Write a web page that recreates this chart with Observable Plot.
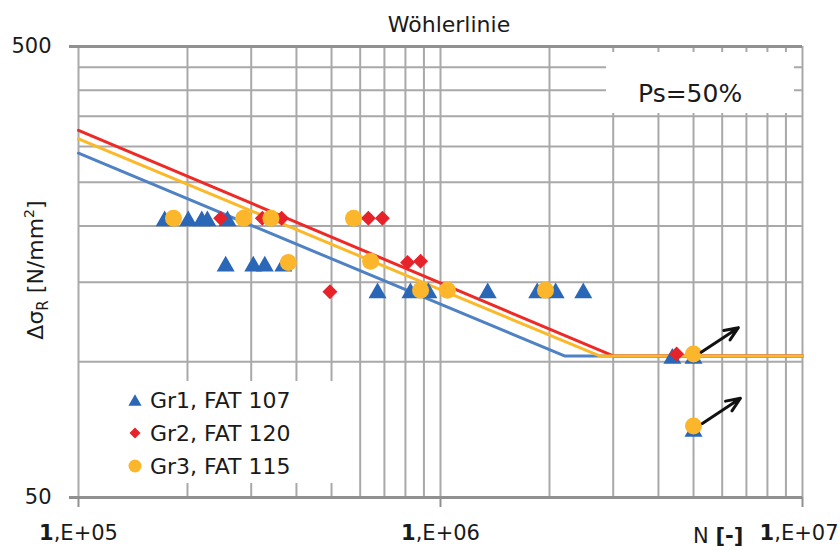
<!DOCTYPE html>
<html><head><meta charset="utf-8">
<script src="https://cdn.jsdelivr.net/npm/d3@7"></script>
<script src="https://cdn.jsdelivr.net/npm/@observablehq/plot@0.6"></script>
<style>
body{margin:0;background:#fff;}
#wrap{position:relative;width:840px;height:550px;}
</style></head><body><div id="wrap"></div>
<script>
// ---- axis ticks / grid ----
const xTicks = [1e5, 1e6, 1e7];
const xTickLabels = ["1,E+05", "1,E+06", "1,E+07"];
const yTicks = [50, 500];
const yTickLabels = ["50", "500"];
const xGrid = [1e5,2e5,3e5,4e5,5e5,6e5,7e5,8e5,9e5,1e6,2e6,3e6,4e6,5e6,6e6,7e6,8e6,9e6,1e7];
const yGrid = [50,100,150,200,250,300,350,400,450,500];

// ---- texts ----
const title = "Wöhlerlinie";
const xLabel = "N [-]";
const psLabel = "Ps=50%";
const seriesNames = ["Gr1, FAT 107", "Gr2, FAT 120", "Gr3, FAT 115"];

// ---- test points ----
const gr1N = [1.73e5, 2.01e5, 2.19e5, 2.27e5, 2.58e5, 2.55e5, 3.04e5, 3.27e5, 3.68e5, 6.70e5, 8.26e5, 9.26e5, 1.35e6, 1.85e6, 2.08e6, 2.48e6, 4.37e6, 5.0e6, 5.0e6];
const gr1S = [208, 208, 208, 208, 208, 165, 165, 165, 165, 144, 144, 144, 144, 144, 144, 144, 103, 103, 71];
const gr2N = [2.47e5, 3.22e5, 3.64e5, 6.32e5, 6.91e5, 8.11e5, 8.81e5, 4.95e5, 4.49e6];
const gr2S = [208, 208, 208, 208, 208, 166, 167, 143, 104];
const gr3N = [1.83e5, 2.86e5, 3.4e5, 5.75e5, 3.80e5, 6.41e5, 8.81e5, 1.045e6, 1.95e6, 5.0e6, 5.0e6];
const gr3S = [208, 208, 208, 208, 166, 167, 144, 144, 144, 104, 72];

// ---- S-N curves ----
const gr1LineN = [1e5, 2.2e6, 1e7];
const gr1LineS = [290, 103, 103];
const gr2LineN = [1e5, 3.0e6, 1e7];
const gr2LineS = [326, 103, 103];
const gr3LineN = [1e5, 2.75e6, 1e7];
const gr3LineS = [312, 103, 103];

// ---- run-out arrows ----
const arrowN1 = [5.25e6, 5.29e6];
const arrowS1 = [105, 73];
const arrowN2 = [6.65e6, 6.74e6];
const arrowS2 = [119, 83];

const colors = {blueM: "#2a67b6", blueL: "#4f81c5", redM: "#e6232a", redL: "#ee2a27", orM: "#fbb62b", orL: "#fbb829"};

const pts = (N, S) => N.map((n, i) => ({n, s: S[i]}));
const gr1 = pts(gr1N, gr1S), gr2 = pts(gr2N, gr2S), gr3 = pts(gr3N, gr3S);
const l1 = pts(gr1LineN, gr1LineS), l2 = pts(gr2LineN, gr2LineS), l3 = pts(gr3LineN, gr3LineS);
const arrows = arrowN1.map((n, i) => ({x1: n, y1: arrowS1[i], x2: arrowN2[i], y2: arrowS2[i]}));

// Excel-like symbols centered on their bounding box
const triSym = {draw(ctx, size) { const r = Math.sqrt(size / Math.PI); const w = 1.2 * r, h = 1.05 * r; ctx.moveTo(0, -h); ctx.lineTo(w, h); ctx.lineTo(-w, h); ctx.closePath(); }};
const diaSym = {draw(ctx, size) { const r = Math.sqrt(size / Math.PI) * 1.1; ctx.moveTo(0, -r); ctx.lineTo(r, 0); ctx.lineTo(0, r); ctx.lineTo(-r, 0); ctx.closePath(); }};

const FONT = "DejaVu Sans";
const plot = Plot.plot({
  width: 840, height: 550,
  marginLeft: 78, marginRight: 38, marginTop: 46, marginBottom: 53,
  x: {type: "log", domain: [1e5, 1e7]},
  y: {type: "log", domain: [50, 500]},
  style: {fontFamily: FONT, fontSize: "21px", color: "#1a1a1a", background: "white", overflow: "visible"},
  marks: [
    Plot.ruleX(xGrid, {stroke: "#a9a9a9", strokeWidth: 2}),
    Plot.ruleY(yGrid, {stroke: "#a9a9a9", strokeWidth: 2}),
    Plot.ruleY(yTicks, {stroke: "#909090", strokeWidth: 3}),
    Plot.axisX(xTicks, {tickFormat: d => xTickLabels[xTicks.indexOf(d)], tickSize: 10, tickPadding: 18, stroke: "#909090", strokeWidth: 2, label: null, fontSize: 21}),
    Plot.axisY(yTicks, {tickFormat: d => yTickLabels[yTicks.indexOf(d)], tickSize: 9, tickPadding: 18, stroke: "#909090", strokeWidth: 3, label: null, fontSize: 21}),
    Plot.line(l1, {x: "n", y: "s", stroke: colors.blueL, strokeWidth: 3}),
    Plot.line(l2, {x: "n", y: "s", stroke: colors.redL, strokeWidth: 3}),
    Plot.line(l3, {x: "n", y: "s", stroke: colors.orL, strokeWidth: 3}),
    Plot.dot(gr1, {x: "n", y: "s", symbol: triSym, r: 7.5, fill: colors.blueM}),
    Plot.dot(gr2, {x: "n", y: "s", symbol: diaSym, r: 6.8, fill: colors.redM}),
    Plot.dot(gr3, {x: "n", y: "s", symbol: "circle", r: 8.5, fill: colors.orM}),
    Plot.arrow(arrows, {x1: "x1", y1: "y1", x2: "x2", y2: "y2", stroke: "#111", strokeWidth: 3, headLength: 13, headAngle: 45})
  ]
});
document.getElementById("wrap").appendChild(plot);

const svg = d3.select(plot);
// bold leading "1" in x tick labels; keep the last label inside the picture
const xtl = svg.selectAll('g[aria-label="x-axis tick label"] text');
const nLab = xtl.size();
xtl.each(function(d, i) {
  const t = this.textContent; const s = d3.select(this); s.text(null);
  s.append("tspan").attr("font-weight", "bold").text(t[0]);
  s.append("tspan").text(t.slice(1));
  if (i === nLab - 1) s.attr("text-anchor", "end").attr("dx", 36);
});

const ann = svg.append("g").attr("font-family", FONT).attr("fill", "#1a1a1a").attr("text-anchor", "start");
// title
ann.append("text").attr("x", 449).attr("y", 32).attr("text-anchor", "middle").attr("font-size", 22).text(title);
// x label
const xl = ann.append("text").attr("x", 693).attr("y", 543).attr("font-size", 21);
xl.append("tspan").text(xLabel.slice(0, 2));
xl.append("tspan").attr("font-weight", "bold").text(xLabel.slice(2));
// y label
const yl = ann.append("text").attr("transform", "translate(43,270) rotate(-90)").attr("text-anchor", "middle").attr("font-size", 22);
yl.append("tspan").text("Δσ");
yl.append("tspan").attr("font-size", 15).attr("dy", 5).text("R");
yl.append("tspan").attr("dy", -5).text(" [N/mm");
yl.append("tspan").attr("font-size", 14).attr("dy", -9).text("2");
yl.append("tspan").attr("dy", 9).text("]");
// Ps box
ann.append("rect").attr("x", 606).attr("y", 52).attr("width", 188).attr("height", 61).attr("fill", "white");
ann.append("text").attr("x", 638).attr("y", 102).attr("font-size", 25).text(psLabel);
// legend
ann.append("rect").attr("x", 120).attr("y", 381).attr("width", 216).attr("height", 102).attr("fill", "white");
const legSyms = [[triSym, 5.5, colors.blueM], [diaSym, 5, colors.redM], [d3.symbolCircle, 6.5, colors.orM]];
seriesNames.forEach((name, i) => {
  const cy = 400 + i * 33;
  const [sym, r, c] = legSyms[i];
  ann.append("path").attr("transform", `translate(135,${cy})`).attr("d", d3.symbol(sym, Math.PI * r * r)()).attr("fill", c);
  ann.append("text").attr("x", 150).attr("y", cy + 8).attr("font-size", 22).text(name);
});
</script></body></html>
